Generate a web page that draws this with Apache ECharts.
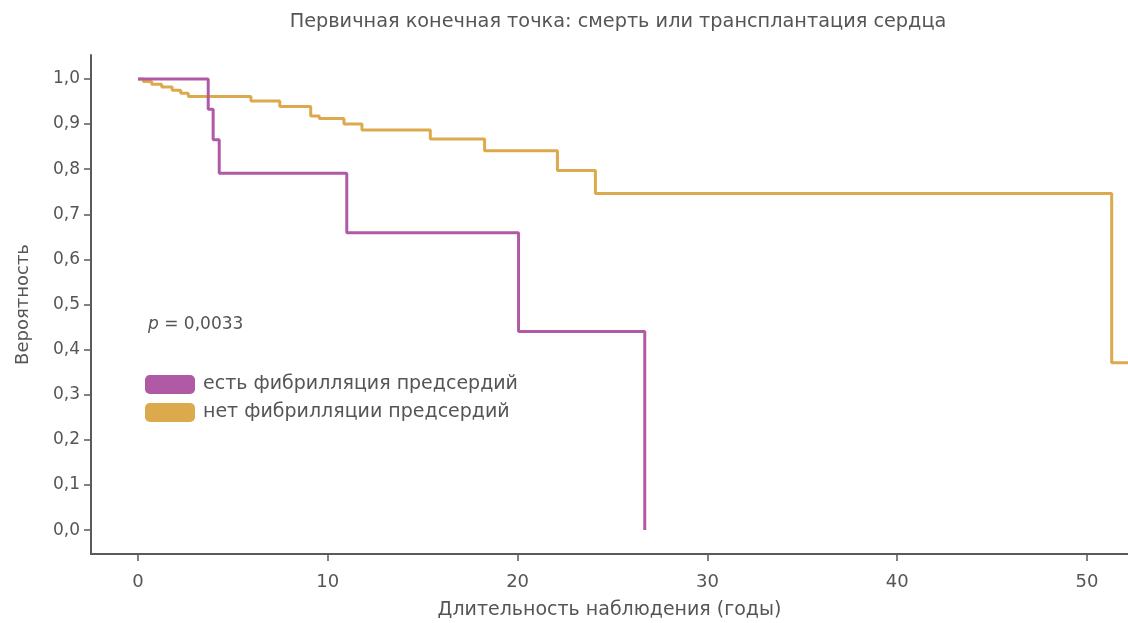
<!DOCTYPE html>
<html>
<head>
<meta charset="utf-8">
<script src="https://cdn.jsdelivr.net/npm/echarts@6/dist/echarts.min.js"></script>
<style>
html,body{margin:0;padding:0;background:#fff;}
#c{width:1128px;height:623px;}
</style>
</head>
<body>
<div id="c"></div>
<script>
// Data
const titleText = 'Первичная конечная точка: смерть или трансплантация сердца';
const xTitle = 'Длительность наблюдения (годы)';
const yTitle = 'Вероятность';
const seriesNames = ['есть фибрилляция предсердий', 'нет фибрилляции предсердий'];
const pText = '0,0033';

// Kaplan–Meier steps: time (years) and survival after the event
const afTimes    = [0, 3.7, 3.96, 4.28, 11.0, 20.05, 26.7];
const afSurv     = [1.0, 0.933, 0.865, 0.791, 0.659, 0.44, 0.0];

const noAfTimes  = [0, 0.28, 0.72, 1.25, 1.8, 2.25, 2.65, 5.95, 7.47, 9.1, 9.55, 10.85, 11.8, 15.4, 18.26, 22.1, 24.1, 51.3, 52.3];
const noAfSurv   = [1.0, 0.994, 0.988, 0.982, 0.975, 0.968, 0.961, 0.951, 0.939, 0.918, 0.912, 0.900, 0.887, 0.867, 0.841, 0.797, 0.746, 0.371, 0.371];

const xTicks = [0, 10, 20, 30, 40, 50];
const yTicks = [0, 0.1, 0.2, 0.3, 0.4, 0.5, 0.6, 0.7, 0.8, 0.9, 1.0];

const colors = ['#b05aa6', '#dcaa4c'];
const textColor = '#555';
const axisColor = '#5a5a5a';
const font = 'DejaVu Sans';

const afData = afTimes.map((t, i) => [t, afSurv[i]]);
const noAfData = noAfTimes.map((t, i) => [t, noAfSurv[i]]);

const chart = echarts.init(document.getElementById('c'), null, {renderer: 'canvas'});
chart.setOption({
  backgroundColor: '#fff',
  animation: false,
  textStyle: {fontFamily: font},
  title: {
    text: titleText,
    left: 613, top: 7, textAlign: 'center',
    textStyle: {fontFamily: font, fontSize: 19.3, fontWeight: 'normal', color: textColor}
  },
  grid: {left: 91, right: 0, top: 55, bottom: 69, containLabel: false, outerBoundsMode: 'none'},
  xAxis: {
    type: 'value', min: -2.476, max: 52.16,
    name: xTitle, nameLocation: 'middle', nameGap: 47,
    nameTextStyle: {fontFamily: font, fontSize: 19, color: textColor},
    axisLine: {show: true, onZero: false, lineStyle: {color: axisColor, width: 2}},
    axisTick: {show: true, length: 7, lineStyle: {color: axisColor, width: 1.5}, customValues: xTicks},
    axisLabel: {color: textColor, fontSize: 18, fontFamily: font, margin: 19, customValues: xTicks,
      formatter: v => String(Math.round(v))},
    splitLine: {show: false}
  },
  yAxis: {
    type: 'value', min: -0.053, max: 1.053,
    name: yTitle, nameLocation: 'middle', nameGap: 59, nameRotate: 90,
    nameTextStyle: {fontFamily: font, fontSize: 18, color: textColor},
    axisLine: {show: true, onZero: false, lineStyle: {color: axisColor, width: 2}},
    axisTick: {show: true, length: 7, lineStyle: {color: axisColor, width: 1.5}, customValues: yTicks},
    axisLabel: {color: textColor, fontSize: 17, fontFamily: font, margin: 11, customValues: yTicks,
      formatter: v => v.toFixed(1).replace('.', ',')},
    splitLine: {show: false}
  },
  legend: {
    orient: 'vertical', left: 140, top: 370,
    icon: 'roundRect', itemWidth: 50, itemHeight: 19, itemGap: 9,
    textStyle: {fontFamily: font, fontSize: 19, color: textColor, padding: [0, 0, 0, 3]},
    data: seriesNames
  },
  graphic: [{
    type: 'text', left: 148, top: 316,
    style: {
      text: '{i|p} = ' + pText,
      fontFamily: font, fontSize: 17, fill: textColor,
      rich: {i: {fontStyle: 'italic', fontFamily: font, fontSize: 17, color: textColor}}
    }
  }],
  series: [
    {
      name: seriesNames[0], type: 'line', step: 'end', showSymbol: false,
      data: afData, color: colors[0], z: 3,
      lineStyle: {color: colors[0], width: 3}
    },
    {
      name: seriesNames[1], type: 'line', step: 'end', showSymbol: false,
      data: noAfData, color: colors[1], z: 2,
      lineStyle: {color: colors[1], width: 3}
    }
  ]
});
</script>
</body>
</html>
